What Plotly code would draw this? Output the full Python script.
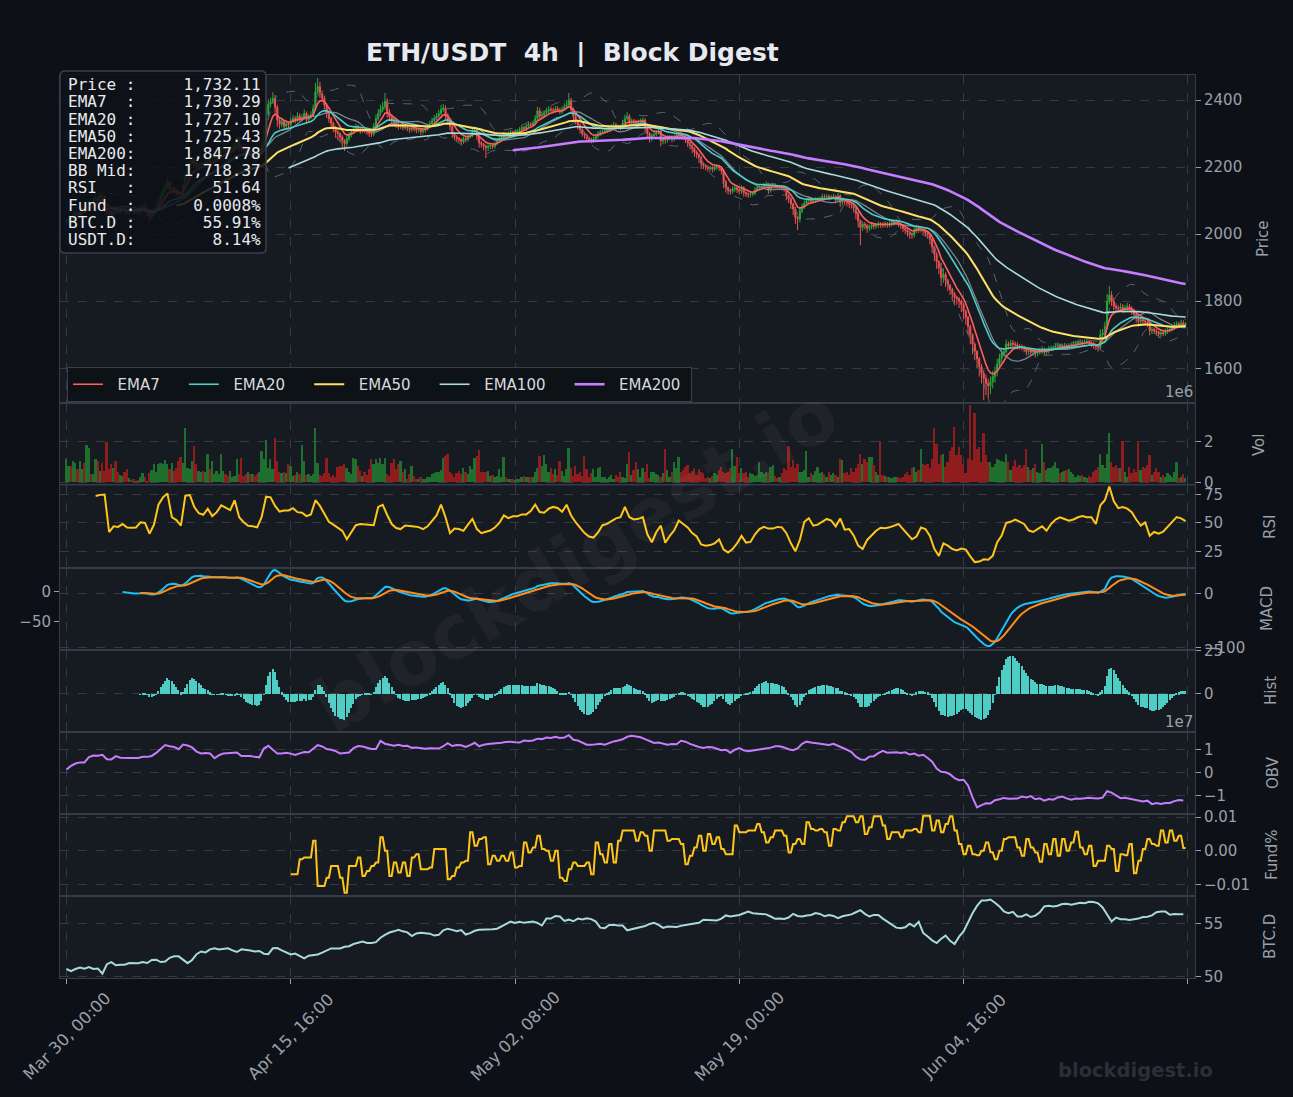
import numpy as np
import pandas as pd
import plotly.graph_objects as go
from plotly.subplots import make_subplots

# ---------------- data ----------------
close = [
2040,2048,2045,2056,2063,2058,2070,2078,2075,2086,
2092,2090,2100,2108,2105,2114,2112,2078,2070,2066,
2058,2072,2068,2066,2072,2075,2068,2066,2070,2068,
2067,2070,2066,2078,2080,2074,2064,2052,2060,2068,
2078,2098,2115,2130,2142,2155,2135,2136,2130,2124,
2120,2118,2140,2170,2195,2212,2220,2210,2206,2208,
2210,2206,2216,2224,2214,2216,2226,2234,2240,2248,
2252,2246,2244,2252,2258,2266,2285,2262,2256,2250,
2244,2246,2240,2244,2236,2234,2244,2268,2310,2360,
2388,2395,2405,2378,2340,2328,2335,2322,2330,2326,
2338,2345,2340,2352,2344,2348,2360,2342,2350,2356,
2375,2425,2440,2418,2405,2385,2360,2345,2330,2318,
2305,2300,2290,2278,2270,2285,2296,2305,2312,2320,
2315,2308,2312,2309,2305,2300,2298,2322,2345,2360,
2372,2380,2395,2365,2350,2340,2332,2326,2320,2322,
2318,2320,2316,2312,2318,2314,2310,2312,2306,2310,
2315,2322,2330,2338,2345,2352,2360,2372,2376,2355,
2340,2322,2300,2290,2285,2282,2276,2285,2282,2290,
2295,2305,2310,2292,2272,2268,2262,2258,2262,2265,
2262,2270,2278,2285,2290,2298,2294,2300,2304,2302,
2306,2308,2312,2318,2315,2322,2328,2326,2332,2345,
2368,2352,2355,2362,2368,2372,2370,2368,2374,2370,
2365,2372,2380,2385,2398,2372,2352,2338,2325,2312,
2300,2295,2286,2282,2278,2284,2292,2300,2304,2306,
2308,2310,2314,2320,2326,2322,2320,2318,2332,2345,
2352,2335,2338,2336,2334,2336,2338,2340,2318,2300,
2285,2294,2298,2302,2308,2278,2285,2282,2288,2290,
2284,2290,2296,2302,2296,2290,2282,2272,2264,2255,
2245,2238,2228,2210,2205,2200,2196,2198,2194,2200,
2202,2198,2190,2156,2138,2130,2128,2135,2138,2133,
2128,2138,2124,2120,2118,2120,2122,2132,2138,2140,
2142,2145,2148,2132,2144,2146,2142,2140,2141,2138,
2136,2115,2105,2090,2075,2050,2045,2070,2082,2092,
2100,2105,2098,2100,2102,2104,2106,2112,2110,2112,
2108,2110,2112,2102,2114,2095,2102,2098,2094,2090,
2088,2078,2062,2040,2020,2030,2026,2018,2022,2028,
2024,2026,2030,2028,2027,2030,2028,2030,2032,2034,
2036,2030,2025,2018,2012,2006,2000,1998,2012,2020,
2014,2016,2010,2004,2000,1985,1962,1940,1918,1900,
1870,1880,1862,1848,1835,1822,1812,1808,1800,1790,
1770,1752,1725,1700,1672,1650,1628,1605,1585,1570,
1555,1548,1560,1575,1590,1612,1630,1645,1650,1672,
1668,1675,1672,1670,1666,1664,1662,1658,1650,1652,
1648,1650,1645,1648,1650,1656,1648,1652,1658,1660,
1662,1666,1668,1666,1667,1668,1666,1668,1670,1672,
1674,1676,1678,1676,1678,1680,1676,1672,1668,1665,
1662,1700,1705,1725,1800,1818,1800,1785,1780,1778,
1782,1776,1780,1784,1778,1772,1760,1750,1740,1745,
1742,1738,1735,1712,1716,1712,1708,1702,1706,1704,
1710,1714,1716,1722,1728,1732,1728,1735,1730,1732.11,
]
first_open = 2036.0

wick_up = [
6,8,5,9,7,4,10,6,8,12, 7,5,9,8,6,10,7,5,6,8, 4,9,6,5,7,8,4,6,5,7, 5,6,4,9,8,5,4,6,7,10,
8,12,9,10,11,12,6,7,5,6, 5,7,10,12,11,9,8,6,7,5, 6,5,8,9,6,5,8,7,9,10, 9,6,5,8,7,10,14,5,6,7,
5,6,4,7,5,6,9,12,15,20, 14,12,18,10,8,6,9,7,8,6, 9,10,7,11,8,9,12,6,8,10, 12,26,26,14,10,8,6,7,5,6,
5,6,4,5,6,9,8,7,8,9, 6,5,7,6,5,4,6,10,12,13, 14,15,26,10,8,7,6,5,6,7, 6,7,5,4,6,5,4,5,4,5,
6,7,8,9,10,9,11,13,12,8, 6,5,4,5,6,5,4,7,5,8, 7,9,10,6,4,5,4,5,6,7, 5,6,7,8,6,7,5,6,7,5,
5,6,7,8,5,7,8,6,7,10, 12,9,10,8,9,10,8,7,9,8, 7,9,10,11,23,8,6,5,4,5, 4,5,4,5,6,7,8,7,6,5,
6,5,7,8,9,6,5,6,9,11, 12,6,7,6,5,6,7,8,5,4, 5,7,6,8,9,5,6,5,7,6, 5,7,8,9,6,5,4,5,4,5,
4,5,4,6,5,4,5,6,5,7, 6,5,4,5,6,5,6,8,7,5, 5,8,5,4,5,6,5,8,7,6, 7,8,9,5,8,7,6,5,6,5,
4,5,4,5,4,6,5,10,9,8, 9,8,6,7,8,7,6,9,7,8, 6,7,8,5,9,5,7,5,4,5, 4,5,4,5,4,8,6,5,7,8,
6,7,8,6,7,8,6,7,8,9, 8,5,4,5,4,5,4,5,9,8, 6,7,5,4,5,4,5,4,6,5, 15,18,6,5,4,5,6,5,4,5,
6,5,4,5,4,6,5,6,8,10, 12,14,16,18,15,16,14,12,10,14, 8,10,9,8,7,6,7,6,5,8, 6,7,6,8,9,10,6,8,9,8,
7,8,9,6,7,8,6,7,8,9, 8,9,10,7,8,9,6,5,6,5, 6,16,12,14,22,27,12,10,9,8, 12,10,9,11,8,7,6,5,6,9,
8,6,5,4,8,6,5,4,8,6, 9,8,7,9,10,8,7,10,8,6,
]

wick_dn = [
7,5,9,6,8,10,5,7,9,6, 8,10,6,7,9,5,8,14,10,9, 14,6,8,9,7,6,10,8,7,6, 8,7,9,5,6,8,10,16,9,7,
6,5,7,8,6,7,14,9,10,8, 9,10,6,5,7,8,6,10,9,8, 7,9,6,5,10,8,6,5,7,6, 5,9,10,7,6,5,6,15,10,9,
10,7,9,6,8,9,6,5,4,6, 8,10,7,16,20,14,9,12,8,10, 7,6,9,5,8,7,6,12,8,6, 7,8,9,12,10,12,14,13,15,14,
18,20,16,19,22,10,8,7,6,5, 7,9,6,8,9,10,8,6,5,6, 7,8,9,18,14,12,10,9,8,7, 8,7,9,10,7,8,9,7,10,8,
7,6,5,6,7,6,5,6,7,14, 12,13,14,10,9,8,10,7,9,6, 5,6,7,12,14,10,12,31,10,9, 8,6,5,6,7,5,6,5,6,7,
6,5,6,5,7,6,5,7,6,5, 6,10,7,6,5,7,6,8,6,7, 8,6,5,6,8,14,12,11,13,12, 10,11,9,8,7,6,5,6,7,6,
5,6,5,4,5,8,7,9,6,5, 6,12,7,8,7,6,5,6,14,15, 12,8,7,6,5,16,10,12,9,8, 10,7,6,5,8,9,10,12,11,13,
14,12,15,16,11,10,9,8,10,7, 8,10,12,18,14,12,10,8,9,10, 10,8,12,9,10,8,7,6,5,6, 7,6,5,12,8,7,6,7,6,8,
9,14,12,15,18,20,33,10,8,7, 6,7,8,6,7,6,5,6,7,6, 7,6,5,10,7,14,9,10,11,12, 12,14,18,20,53,10,12,14,9,8,
9,8,7,9,8,7,9,8,7,6, 7,9,10,11,12,13,14,12,8,9, 10,9,10,12,14,16,18,20,22,20, 24,15,20,18,16,22,25,18,20,22,
24,22,25,28,30,26,28,30,30,65, 35,38,25,20,18,14,12,13,10,9, 12,10,11,9,10,8,9,10,12,11, 12,10,13,9,8,7,10,9,8,7,
8,7,6,8,7,6,8,7,6,5, 6,5,6,7,6,5,8,9,10,11, 12,8,7,6,8,10,14,12,10,9, 10,12,11,9,10,12,14,15,16,12,
10,11,12,14,10,9,10,11,9,8, 7,8,7,6,7,6,8,7,8,6,
]

# volume in units of 10,000
volume_e4 = [
111,79,79,103,95,63,103,63,95,183, 167,40,40,111,103,56,95,56,198,63, 87,67,103,48,37,32,48,63,21,11,
16,8,11,24,43,24,8,43,60,87, 48,87,95,87,106,87,63,92,52,71, 103,122,95,262,71,63,103,175,87,56,
48,56,48,135,63,103,40,56,40,135, 56,40,32,56,27,32,114,40,119,32, 40,48,40,40,32,40,48,151,114,206,
71,111,63,214,103,48,43,48,43,87, 79,32,37,48,40,183,103,37,40,32, 40,265,95,37,32,43,119,43,24,37,
24,75,79,79,87,71,48,40,119,111, 79,56,32,48,37,63,111,87,111,95, 119,87,116,40,32,95,111,63,87,103,
48,63,16,40,79,32,16,16,24,16, 16,24,27,40,43,48,48,59,119,127, 135,48,40,24,43,52,40,71,48,40,
79,63,119,127,159,48,48,48,56,32, 37,27,32,63,24,122,24,16,16,16, 11,16,16,24,32,24,27,24,24,48,
71,127,79,132,87,48,71,40,63,37, 103,56,32,63,167,71,32,79,40,48, 32,127,63,24,43,63,24,71,76,24,
24,16,24,37,16,37,24,48,24,19, 90,146,35,60,98,62,27,67,48,90, 19,51,51,40,35,27,45,162,59,27,
50,98,67,125,51,60,75,83,43,55, 67,35,62,51,45,19,27,19,30,43, 35,59,75,50,43,51,67,162,80,125,
43,67,45,51,27,43,40,30,35,98, 51,40,51,43,75,83,30,19,27,43, 67,60,178,75,106,70,90,51,51,60,
154,27,46,35,55,75,43,51,40,27, 51,35,43,35,27,114,106,43,50,35, 67,51,70,90,135,90,114,100,122,122,
83,51,33,202,35,30,27,27,19,25, 27,27,19,27,40,51,35,67,75,50, 59,162,90,83,90,67,114,265,186,90,
130,138,75,100,154,170,268,130,170,130, 90,43,114,376,106,336,162,170,98,241, 130,98,98,75,90,114,110,103,98,138,
98,59,80,106,75,83,67,83,162,75, 59,70,90,51,43,186,98,59,67,67, 80,98,67,43,51,55,59,62,51,40,
27,35,30,35,25,19,30,27,51,60, 75,138,83,67,138,241,98,75,83,70, 67,202,51,27,75,43,62,50,202,59,
75,70,83,130,35,50,67,51,27,35, 27,43,35,27,51,98,19,27,40,19,
]

# RSI read every 2 candles, starting at candle 13
rsi_2c = [
73.7,74.7,75.0,42.0,47.0,46.5,49.0,46.0,45.8,46.0,
50.5,50.0,40.5,48.5,66.0,72.5,76.0,55.0,52.5,47.6,
74.0,74.5,64.0,58.5,57.2,62.5,56.0,59.5,65.5,63.5,
61.3,70.0,55.0,50.6,47.5,47.0,46.1,55.0,73.1,72.5,
65.0,60.0,61.0,61.0,63.0,59.5,59.0,56.0,57.5,70.0,
65.0,58.0,51.0,48.5,46.1,43.0,35.6,41.6,48.0,49.0,
48.5,48.2,48.0,64.1,66.0,57.0,49.0,45.5,44.6,47.8,
47.6,46.8,46.3,44.6,47.0,52.1,56.6,66.2,55.0,41.0,
45.0,44.6,43.0,48.5,53.6,44.6,41.0,42.2,43.3,46.0,
50.0,56.6,54.2,55.8,55.8,57.5,57.5,60.5,66.2,59.6,
59.0,62.5,64.1,63.2,59.8,66.0,56.6,50.6,45.5,41.0,
38.0,37.1,41.6,48.0,49.1,51.2,54.0,55.0,64.0,55.0,
53.0,53.6,55.1,40.0,33.0,42.0,47.6,32.5,38.6,43.5,
52.1,49.1,46.1,41.0,38.0,31.0,30.0,30.5,32.0,35.5,
26.5,24.0,27.0,32.0,38.6,32.7,33.3,40.0,44.6,46.6,
45.0,45.0,46.5,46.1,41.0,32.0,25.0,35.0,51.0,54.2,
47.6,48.5,51.0,53.5,52.1,47.0,54.0,44.0,44.6,39.0,
30.0,27.0,35.0,38.6,43.1,45.8,45.3,46.1,47.5,49.1,
44.5,40.0,35.6,38.0,46.0,44.6,38.6,27.0,21.0,32.0,
30.0,27.0,25.8,27.5,26.5,20.5,15.5,16.0,18.0,17.6,
21.0,33.0,38.8,50.0,51.0,53.0,51.0,49.1,43.5,42.0,
44.6,47.0,43.1,49.0,53.0,55.0,53.5,52.0,53.0,55.0,
56.0,55.1,55.0,49.0,65.6,70.0,82.0,69.0,63.0,64.0,
62.6,59.5,53.0,47.6,50.5,38.6,42.0,40.5,42.2,46.5,
50.0,55.1,54.0,51.64,
]

# OBV in millions, every 2 candles from candle 0
obv_2c_mil = [
1.4,3.0,4.0,4.5,4.5,6.8,7.5,7.4,7.8,5.9,
5.8,7.2,6.5,6.3,6.4,6.4,6.4,6.9,6.9,7.3,
8.6,10.3,12.0,11.5,11.2,10.2,12.2,11.8,11.0,9.2,
8.4,8.6,8.4,6.3,7.6,8.4,8.5,8.4,8.8,7.3,
7.3,7.3,6.9,6.7,10.5,11.7,10.0,8.4,8.4,8.7,
8.3,7.7,8.4,9.0,8.9,10.5,12.0,11.4,10.3,10.0,
9.4,8.4,8.5,8.8,10.7,11.6,11.4,10.8,10.3,10.3,
13.8,12.6,12.0,11.7,12.1,11.6,11.7,10.8,11.0,10.6,
10.4,10.6,10.4,10.5,11.5,12.8,11.6,12.0,11.9,11.2,
12.0,13.0,11.5,12.2,12.5,12.6,12.9,13.0,13.4,13.5,
13.2,13.1,14.0,13.8,14.0,14.8,14.6,15.3,15.1,15.6,
15.1,15.3,16.3,14.3,14.0,13.1,12.2,12.1,12.5,12.6,
12.2,13.0,13.6,14.0,14.5,15.6,16.0,15.7,15.4,14.6,
13.6,12.9,13.1,12.5,12.2,12.5,12.4,13.9,13.5,12.5,
11.7,11.2,10.8,11.2,11.1,10.4,9.8,10.0,8.7,10.0,
10.7,9.7,9.3,9.7,10.0,10.3,10.4,10.9,11.5,11.5,
11.0,10.2,9.8,10.6,12.6,13.5,13.1,12.9,12.6,12.2,
12.1,12.6,11.8,10.8,10.0,9.0,7.0,5.8,5.6,7.0,
7.2,8.5,9.5,8.7,8.8,8.9,8.6,8.9,7.9,8.3,
7.4,7.8,6.4,4.8,1.8,0.4,0.2,-0.7,-2.3,-3.2,
-3.0,-5.5,-10.7,-15.0,-14.0,-13.2,-13.3,-11.9,-11.5,-10.9,
-11.3,-11.3,-11.2,-10.3,-10.7,-10.1,-11.5,-11.1,-12.1,-11.4,
-11.7,-10.7,-10.3,-11.1,-11.7,-11.2,-11.3,-11.0,-10.8,-11.0,
-11.2,-10.8,-8.0,-8.6,-9.8,-11.0,-10.8,-11.3,-11.7,-12.0,
-12.5,-12.1,-13.6,-13.1,-13.5,-13.1,-13.1,-12.3,-11.8,-12.0,
]

# BTC dominance (%), every 2 candles from candle 0
btcd_2c = [
50.75,50.55,50.75,50.88,50.78,50.94,50.75,50.80,50.31,51.20,
51.40,51.10,51.16,51.16,51.31,51.31,51.30,51.40,51.31,51.60,
51.63,51.40,51.45,51.80,51.94,51.94,51.60,51.30,51.60,52.15,
52.40,52.31,52.60,52.70,52.58,52.63,52.70,52.50,52.35,52.60,
52.58,52.50,52.41,52.45,52.19,52.15,52.70,52.72,52.50,52.30,
52.12,52.20,52.00,51.75,52.00,52.09,52.12,52.30,52.50,52.69,
52.69,52.69,52.85,52.90,53.10,53.19,53.33,53.20,53.20,53.28,
53.70,53.97,54.19,54.30,54.45,54.30,54.20,53.85,54.10,54.16,
54.15,54.08,53.90,53.97,54.40,54.55,54.44,54.32,54.42,54.00,
54.13,54.35,54.45,54.45,54.45,54.50,54.55,54.75,55.00,55.22,
55.08,55.20,55.10,55.18,55.22,55.10,54.85,55.50,55.50,55.75,
55.70,55.28,55.40,55.25,55.50,55.42,55.53,55.45,55.22,54.65,
54.60,54.90,54.92,54.85,54.85,54.40,54.50,54.58,54.75,54.80,
55.00,55.10,54.91,54.62,54.75,54.72,54.70,54.82,54.91,55.00,
55.03,55.10,55.40,55.38,55.38,55.33,55.50,55.80,55.70,55.75,
55.84,56.00,56.16,56.00,55.98,55.90,55.90,55.70,55.48,55.50,
55.47,55.60,55.95,55.75,55.70,55.80,55.84,56.02,55.94,55.72,
55.84,55.75,55.55,55.72,55.84,55.90,56.10,56.30,55.95,55.70,
55.85,55.85,55.50,55.20,54.95,54.65,54.59,54.68,55.02,54.75,
55.20,54.15,53.81,53.45,53.20,53.60,53.90,53.40,53.10,53.80,
54.30,55.20,56.00,56.70,57.20,57.20,57.30,57.00,56.65,56.18,
56.00,56.14,55.70,55.70,55.90,55.65,55.78,56.10,56.65,56.72,
56.65,56.72,56.88,56.90,56.80,56.90,57.00,56.95,57.08,57.06,
56.94,56.55,55.85,55.22,55.60,55.45,55.45,55.38,55.44,55.50,
55.65,55.68,55.80,56.10,56.16,56.16,55.86,55.94,55.92,55.91,
]

# funding rate (%), one value per 8h (2 candles) from candle 100
funding_8h = [
-0.007,-0.007,-0.0025,-0.002,-0.002,0.003,-0.0105,-0.0105,-0.008,-0.0045,
-0.0045,-0.008,-0.0125,-0.0045,-0.0045,-0.002,-0.0075,-0.006,-0.0045,-0.0035,
0.004,0.0,-0.0075,-0.0035,-0.0065,-0.0035,-0.0075,-0.002,-0.001,-0.0055,
-0.0055,-0.005,0.0005,0.0005,0.0005,-0.0085,-0.0075,-0.005,-0.0035,-0.003,
0.0055,0.0015,0.0035,0.004,-0.004,-0.0015,-0.003,-0.0015,-0.003,-0.0005,
-0.005,-0.0045,0.0025,-0.0005,0.001,0.0045,0.0005,0.0,-0.003,0.0,
-0.008,-0.009,-0.0055,-0.0035,-0.0045,-0.0045,-0.0035,-0.007,0.0025,-0.001,
-0.0035,0.002,-0.0035,0.003,0.006,0.006,0.006,0.003,0.0055,0.0045,
0.0,0.006,0.006,0.006,0.003,0.0035,0.0035,0.002,-0.004,-0.0015,
0.001,0.0045,0.0,0.005,0.002,0.004,0.0005,-0.001,-0.001,0.0075,
0.0055,0.0055,0.006,0.006,0.008,0.0055,0.0025,0.004,0.006,0.006,
0.0045,-0.0005,0.002,0.0035,0.002,0.0085,0.0065,0.006,0.0065,0.0055,
0.0015,0.0065,0.006,0.0085,0.0103,0.0103,0.0085,0.0103,0.005,0.007,
0.0103,0.0103,0.0075,0.0035,0.0055,0.0055,0.004,0.006,0.006,0.0065,
0.0055,0.0104,0.0104,0.006,0.009,0.0055,0.008,0.0103,0.006,0.002,
-0.001,0.0015,-0.001,-0.0013,0.0,0.0025,-0.0004,-0.0025,0.0,0.0035,
0.004,0.004,0.001,-0.0015,0.0035,0.001,-0.0005,-0.0033,0.002,-0.001,
0.0035,-0.0015,0.0035,0.0,0.0025,0.0057,0.001,-0.001,0.0015,-0.0045,
-0.003,-0.003,0.0015,0.0005,-0.006,-0.001,-0.0013,0.002,-0.0067,-0.003,
0.0005,0.0035,0.002,0.0015,0.006,0.0025,0.006,0.003,0.0045,0.0008,
]

tick_labels = ["Mar 30, 00:00", "Apr 15, 16:00", "May 02, 08:00", "May 19, 00:00", "Jun 04, 16:00"]
info_labels = ["Price", "EMA7", "EMA20", "EMA50", "EMA200", "BB Mid", "RSI", "Fund", "BTC.D", "USDT.D"]
info_values = ["1,732.11", "1,730.29", "1,727.10", "1,725.43", "1,847.78", "1,718.37",
               "51.64", "0.0008%", "55.91%", "8.14%"]
title_text = "ETH/USDT  4h  |  Block Digest"

# ---------------- derived series ----------------
n = len(close)
step = pd.Timedelta(hours=4)
start = pd.Timestamp("2023-03-30 00:00")
dates = pd.date_range(start, periods=n, freq="4h")

c = np.array(close, dtype=float)
o = np.concatenate([[first_open], c[:-1]])
h = np.maximum(o, c) + np.array(wick_up, dtype=float)
l = np.minimum(o, c) - np.array(wick_dn, dtype=float)
s = pd.Series(c)


def ema(series, span):
    return series.ewm(span=span, adjust=False, min_periods=span).mean()


ema7, ema20, ema50, ema100, ema200 = (ema(s, k) for k in (7, 20, 50, 100, 200))
bb_mid = s.rolling(20).mean()
bb_std = s.rolling(20).std(ddof=0)
bb_up = bb_mid + 2 * bb_std
bb_lo = bb_mid - 2 * bb_std
macd = ema(s, 12) - ema(s, 26)
signal = macd.ewm(span=9, adjust=False, min_periods=9).mean()
hist = macd - signal

vol = np.array(volume_e4, dtype=float) * 1e4
vol_colors = np.where(c >= o, "#1f6f2e", "#8f1d1d")

rsi_x = dates[13:13 + 2 * len(rsi_2c):2]
obv_x = dates[0:2 * len(obv_2c_mil):2]
obv = np.array(obv_2c_mil) * 1e6
btc_x = dates[0:2 * len(btcd_2c):2]
fund = np.repeat(np.array(funding_8h), 2)
fund_x = dates[100:100 + len(fund)]

# ---------------- figure ----------------
BG = "#0d1017"
PLOT_BG = "#161a21"
GRID = "#343944"
BORDER = "#363b46"
TICKC = "#9aa0a8"
FONT = "DejaVu Sans"
NB = "\u00a0"

fig = make_subplots(rows=8, cols=1, shared_xaxes=True, vertical_spacing=0,
                    row_heights=[4, 1, 1, 1, 1, 1, 1, 1])

# price panel
fig.add_trace(go.Scatter(x=dates, y=bb_up, mode="lines", line=dict(color="#5b6372", width=1, dash="dash"),
                         showlegend=False, hoverinfo="skip"), row=1, col=1)
fig.add_trace(go.Scatter(x=dates, y=bb_lo, mode="lines", line=dict(color="#5b6372", width=1, dash="dash"),
                         showlegend=False, hoverinfo="skip"), row=1, col=1)
fig.add_trace(go.Scatter(x=dates, y=bb_mid, mode="lines", line=dict(color="#7c8594", width=1.3),
                         showlegend=False, hoverinfo="skip"), row=1, col=1)
fig.add_trace(go.Candlestick(x=dates, open=o, high=h, low=l, close=c,
                             increasing=dict(line=dict(color="#2ba83a", width=1), fillcolor="#2ba83a"),
                             decreasing=dict(line=dict(color="#ef5350", width=1), fillcolor="#ef5350"),
                             whiskerwidth=0, showlegend=False), row=1, col=1)
legend_items = [(ema7, "EMA7", "#ff5e5e", 1.6, 4), (ema20, "EMA20", "#4ecdc4", 1.6, 4),
                (ema50, "EMA50", "#ffe066", 2.0, 4), (ema100, "EMA100", "#a8dadc", 1.6, 4),
                (ema200, "EMA200", "#c77dff", 2.6, 1)]
for series, name, color, width, trail in legend_items:
    fig.add_trace(go.Scatter(x=dates, y=series, mode="lines", name=NB * 2 + name + NB * trail,
                             line=dict(color=color, width=width)), row=1, col=1)

# volume
fig.add_trace(go.Bar(x=dates, y=vol, marker=dict(color=vol_colors, line=dict(width=0)),
                     width=0.8 * step.total_seconds() * 1000, showlegend=False), row=2, col=1)
# RSI
fig.add_trace(go.Scatter(x=rsi_x, y=rsi_2c, mode="lines", line=dict(color="#ffc61a", width=2),
                         showlegend=False), row=3, col=1)
# MACD
fig.add_trace(go.Scatter(x=dates, y=macd, mode="lines", line=dict(color="#1ec0f5", width=2),
                         showlegend=False), row=4, col=1)
fig.add_trace(go.Scatter(x=dates, y=signal, mode="lines", line=dict(color="#ff8c1a", width=2),
                         showlegend=False), row=4, col=1)
fig.add_trace(go.Scatter(x=[dates[0]], y=[0], mode="markers", marker=dict(opacity=0),
                         xaxis="x4", yaxis="y9", showlegend=False, hoverinfo="skip"))
# Hist
fig.add_trace(go.Bar(x=dates, y=hist, marker=dict(color="#4ecdc4", line=dict(width=0)),
                     width=0.6 * step.total_seconds() * 1000, showlegend=False), row=5, col=1)
# OBV
fig.add_trace(go.Scatter(x=obv_x, y=obv, mode="lines", line=dict(color="#c77dff", width=2),
                         showlegend=False), row=6, col=1)
# Funding
fig.add_trace(go.Scatter(x=fund_x, y=fund, mode="lines", line=dict(color="#ffc61a", width=2),
                         showlegend=False), row=7, col=1)
# BTC.D
fig.add_trace(go.Scatter(x=btc_x, y=btcd_2c, mode="lines", line=dict(color="#a8dadc", width=2),
                         showlegend=False), row=8, col=1)

# axes
x_range = [start - 2.9 * step, start + 503.2 * step]
tick_dates = [start + k * 100 * step for k in range(6)]
for r in range(1, 9):
    fig.update_xaxes(row=r, col=1, range=x_range, tickvals=tick_dates, showticklabels=False,
                     showgrid=True, gridcolor=GRID, griddash="dash", gridwidth=1, zeroline=False,
                     showline=True, mirror=True, linecolor=BORDER, linewidth=1, ticks="")
    fig.update_yaxes(row=r, col=1, side="right", showgrid=True, gridcolor=GRID, griddash="dash",
                     gridwidth=1, zeroline=False, showline=True, mirror=True, linecolor=BORDER,
                     linewidth=1, ticks="outside", ticklen=5, tickcolor=TICKC,
                     tickfont=dict(family=FONT, size=15, color=TICKC))
fig.update_xaxes(row=8, col=1, ticks="outside", ticklen=5, tickcolor=TICKC)
fig.update_xaxes(rangeslider_visible=False)

fig.update_yaxes(row=1, col=1, range=[1495.5, 2474.6], tickvals=[1600, 1800, 2000, 2200, 2400])
fig.update_yaxes(row=2, col=1, range=[-0.143e6, 3.857e6], tickvals=[0, 2e6], ticktext=["0", "2"])
fig.update_yaxes(row=3, col=1, range=[10.7, 83], tickvals=[25, 50, 75])
fig.update_yaxes(row=4, col=1, range=[-103.7, 48], tickvals=[-100, 0], ticktext=["\u2212100", "0"])
fig.update_yaxes(row=5, col=1, range=[-22.1, 25.6], tickvals=[0, 25])
fig.update_yaxes(row=6, col=1, range=[-1.78e7, 1.78e7], tickvals=[-1e7, 0, 1e7],
                 ticktext=["\u22121", "0", "1"])
fig.update_yaxes(row=7, col=1, range=[-0.01343, 0.0110], tickvals=[-0.01, 0, 0.01],
                 ticktext=["\u22120.01", "0.00", "0.01"])
fig.update_yaxes(row=8, col=1, range=[49.9, 57.64], tickvals=[50, 55])

fig.update_layout(yaxis9=dict(overlaying="y4", anchor="x4", side="left", range=[-96.67, 40],
                              tickvals=[0, -50], ticktext=["0", "\u221250"], showgrid=False,
                              zeroline=False, showline=False, ticks="outside", ticklen=5,
                              tickcolor=TICKC, tickfont=dict(family=FONT, size=15, color=TICKC)))

W, H = 1293, 1097
ML, MR, MT, MB = 60, 98, 75, 119
PW, PH = W - ML - MR, H - MT - MB


def px(xp):
    return (xp - ML) / PW


def py(yp):
    return (H - MB - yp) / PH


annotations = []
# title
annotations.append(dict(text="<b>" + title_text.replace(" ", NB) + "</b>", xref="paper", yref="paper",
                        x=px(572), y=py(52), xanchor="center", yanchor="middle", showarrow=False,
                        font=dict(family=FONT, size=25, color="#e6e9ef")))
# x tick labels
for k, lab in enumerate(tick_labels):
    annotations.append(dict(text=lab, xref="x8", yref="paper", x=tick_dates[k], y=py(1036),
                            xanchor="center", yanchor="middle", textangle=-45, showarrow=False,
                            font=dict(family=FONT, size=16.5, color=TICKC)))
# right axis titles
for lab, xx, yy in [("Price", 1263, 239), ("Vol", 1259, 445), ("RSI", 1270, 527), ("MACD", 1267, 609),
                    ("Hist", 1271, 691), ("OBV", 1273, 773), ("Fund%", 1272, 855), ("BTC.D", 1270, 937)]:
    annotations.append(dict(text=lab, xref="paper", yref="paper", x=px(xx), y=py(yy), xanchor="center",
                            yanchor="middle", textangle=-90, showarrow=False,
                            font=dict(family=FONT, size=15, color=TICKC)))
# offset labels
for lab, yy in [("1e6", 392), ("1e7", 722)]:
    annotations.append(dict(text=lab, xref="paper", yref="paper", x=px(1195), y=py(yy), xanchor="right",
                            yanchor="middle", showarrow=False, font=dict(family=FONT, size=15, color=TICKC)))
# info box lines
for k, (lab, val) in enumerate(zip(info_labels, info_values)):
    line = f"{lab:<6}:{val:>13}".replace(" ", NB)
    annotations.append(dict(text=line, xref="paper", yref="paper", x=px(66), y=py(84.5 + 17.25 * k),
                            xanchor="left", yanchor="middle", showarrow=False,
                            font=dict(family="DejaVu Sans Mono", size=16, color="#e8eaee")))
# watermarks
annotations.append(dict(text="<b>blockdigest.io</b>", xref="paper", yref="paper", x=px(575), y=py(560),
                        xanchor="center", yanchor="middle", textangle=-31, showarrow=False,
                        font=dict(family=FONT, size=75, color="rgba(255,255,255,0.045)")))
annotations.append(dict(text="<b>blockdigest.io</b>", xref="paper", yref="paper", x=px(1135), y=py(1070),
                        xanchor="center", yanchor="middle", showarrow=False,
                        font=dict(family=FONT, size=19.5, color="#2a2f38")))

# info box shape (rounded)
x0, x1, y0, y1 = px(60), px(266), py(253), py(71)
rx, ry = 5 / PW, 5 / PH
path = (f"M {x0+rx},{y0} L {x1-rx},{y0} Q {x1},{y0} {x1},{y0+ry} L {x1},{y1-ry} Q {x1},{y1} {x1-rx},{y1} "
        f"L {x0+rx},{y1} Q {x0},{y1} {x0},{y1-ry} L {x0},{y0+ry} Q {x0},{y0} {x0+rx},{y0} Z")
shapes = [dict(type="path", path=path, xref="paper", yref="paper", layer="above",
               fillcolor="rgba(13,17,23,0.86)", line=dict(color="#3a3f4b", width=1.5))]

fig.update_layout(
    width=W, height=H, margin=dict(l=ML, r=MR, t=MT, b=MB),
    paper_bgcolor=BG, plot_bgcolor=PLOT_BG,
    font=dict(family=FONT, size=15, color=TICKC),
    bargap=0, showlegend=True,
    legend=dict(orientation="h", x=px(67), y=py(367), xanchor="left", yanchor="top",
                bgcolor="rgba(13,17,23,0.92)", bordercolor="#3a3f4b", borderwidth=1,
                font=dict(family=FONT, size=15, color="#d6d9de"), itemwidth=30),
    annotations=annotations, shapes=shapes,
    hovermode=False,
)

fig.write_html("out.html")
